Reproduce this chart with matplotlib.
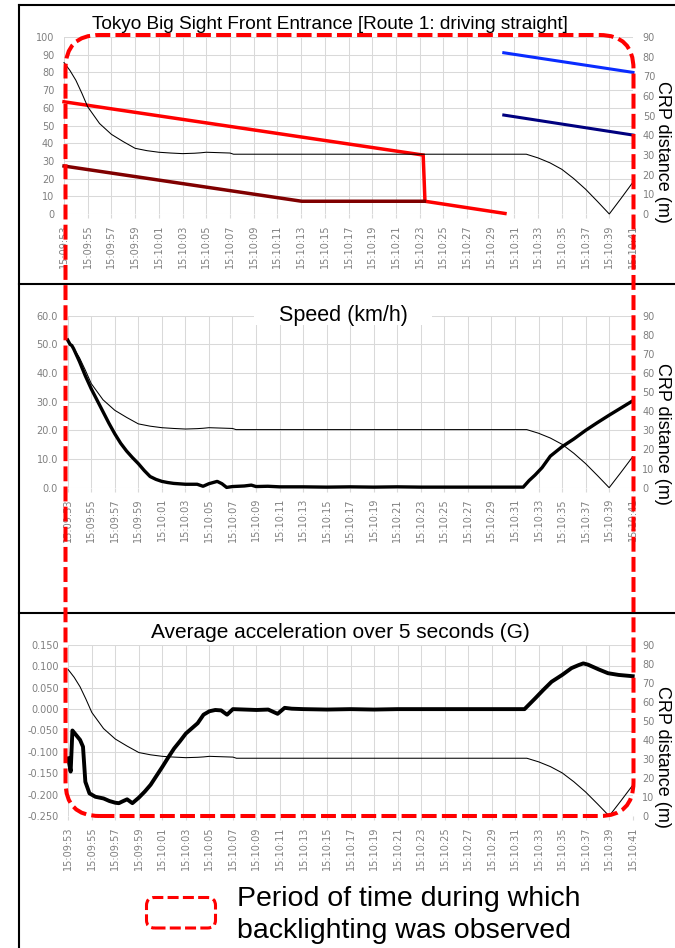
import matplotlib
matplotlib.use('Agg')
import matplotlib.pyplot as plt
from matplotlib.patches import FancyBboxPatch, Rectangle
from matplotlib.lines import Line2D
from matplotlib.transforms import IdentityTransform
from matplotlib.ticker import FixedLocator, FixedFormatter, FuncFormatter
from matplotlib import font_manager as fm

W, H, DPI = 675, 948, 100

# ---------------- data ----------------
tick_seconds = [0, 2, 4, 6, 8, 10, 12, 14, 16, 18, 20, 22, 24, 26, 28, 30,
                32, 34, 36, 38, 40, 42, 44, 46, 48]
tick_labels = ['15:09:53', '15:09:55', '15:09:57', '15:09:59', '15:10:01',
               '15:10:03', '15:10:05', '15:10:07', '15:10:09', '15:10:11',
               '15:10:13', '15:10:15', '15:10:17', '15:10:19', '15:10:21',
               '15:10:23', '15:10:25', '15:10:27', '15:10:29', '15:10:31',
               '15:10:33', '15:10:35', '15:10:37', '15:10:39', '15:10:41']

# CRP distance (m), right axis, same in all three panels
crp_t = [0, 0.5, 1, 1.5, 2, 3, 4, 5, 6, 7, 8, 9, 10, 11, 11.5, 12, 13, 14, 14.3,
         16, 20, 25, 30, 35, 39, 40, 41, 42, 43, 44, 45, 46, 47, 48]
crp_m = [77, 73, 68, 61.5, 54.5, 46, 40.5, 36.8, 33.4, 32.2, 31.4, 31.0, 30.7,
         30.9, 31.1, 31.4, 31.2, 31.0, 30.4, 30.4, 30.4, 30.4, 30.4, 30.4, 30.4,
         28.5, 26.0, 22.7, 18.0, 12.6, 6.4, 0.0, 8.0, 16.2]

# top panel lines (left axis 0-100)
red_t = [0, 30.3, 30.45, 37.2]
red_v = [63.4, 33.3, 7.2, 0.3]
darkred_t = [0, 20.05, 30.4]
darkred_v = [27.1, 7.2, 7.2]
blue_t = [37.1, 48]
blue_v = [91.1, 80.0]
navy_t = [37.1, 48]
navy_v = [55.9, 44.6]

# speed (km/h)
spd_t = [0, 0.2, 0.35, 0.5, 1, 1.5, 2, 2.5, 3, 3.5, 4, 4.5, 5, 5.5, 6, 6.5, 7,
         7.5, 8, 8.5, 9, 10, 11, 11.5, 12, 12.7, 13.1, 13.5, 14, 15, 15.6, 16,
         17, 18, 20, 22, 24, 26, 28, 30, 32, 34, 36, 38, 38.7, 39.2, 39.7, 40.3,
         41, 42, 43, 44, 45, 46, 47, 48]
spd_v = [51.5, 50.0, 49.6, 48.5, 44.0, 39.0, 34.5, 30.5, 26.5, 22.5, 18.8,
         15.5, 12.8, 10.5, 8.4, 6.0, 3.9, 2.9, 2.2, 1.8, 1.5, 1.2, 1.2, 0.5,
         1.4, 2.2, 1.4, 0.1, 0.4, 0.6, 0.9, 0.4, 0.5, 0.3, 0.3, 0.2, 0.3, 0.2,
         0.3, 0.2, 0.2, 0.2, 0.2, 0.2, 0.2, 2.5, 4.4, 7.0, 11.0, 14.3, 17.0,
         20.0, 22.7, 25.3, 27.8, 30.3]

# average acceleration over 5 s (G)
acc_t = [0, 0.2, 0.35, 1.0, 1.25, 1.45, 1.8, 2.3, 3.0, 3.5, 4.0, 4.3, 4.6, 5.0,
         5.45, 6.0, 6.5, 7.0, 7.5, 8.0, 8.5, 9.0, 9.5, 10.0, 10.5, 11.0, 11.5,
         12.0, 12.5, 13.0, 13.5, 14.0, 15, 16, 17, 17.8, 18.4, 19, 20, 22, 24,
         26, 28, 30, 32, 34, 36, 38, 38.8, 39.7, 40.4, 41.1, 42.0, 42.8, 43.4,
         43.8, 44.2, 45.1, 45.9, 46.8, 48]
acc_v = [-0.115, -0.146, -0.050, -0.072, -0.088, -0.170, -0.197, -0.205, -0.209,
         -0.215, -0.219, -0.220, -0.216, -0.211, -0.220, -0.207, -0.193, -0.177,
         -0.156, -0.135, -0.113, -0.092, -0.075, -0.057, -0.045, -0.033, -0.013,
         -0.005, -0.002, -0.003, -0.013, 0.000, -0.001, -0.002, -0.001, -0.011,
         0.003, 0.001, 0.000, -0.001, 0.000, -0.001, 0.000, 0.000, 0.000, 0.000,
         0.000, 0.000, 0.000, 0.025, 0.045, 0.064, 0.080, 0.096, 0.103, 0.107,
         0.104, 0.093, 0.084, 0.080, 0.077]

# ---------------- fonts ----------------
def has_font(name):
    try:
        fm.findfont(name, fallback_to_default=False)
        return True
    except Exception:
        return False

SANS = 'Liberation Sans' if has_font('Liberation Sans') else 'DejaVu Sans'
if has_font('Liberation Sans Narrow'):
    TITLE_FONT, TITLE_SIZE = 'Liberation Sans Narrow', 16.3
else:
    TITLE_FONT, TITLE_SIZE = SANS, 13.7

TICK_COLOR = '#7f7f7f'
GRID_COLOR = '#d9d9d9'

fig = plt.figure(figsize=(W / DPI, H / DPI), dpi=DPI)
fig.patch.set_facecolor('white')


def add_axes_px(left, top, right, bottom):
    return fig.add_axes([left / W, (H - bottom) / H, (right - left) / W,
                         (bottom - top) / H])


def style_panel(ax, ylim, yticks, yfmt):
    ax.set_xlim(0, 48)
    ax.set_ylim(*ylim)
    for s in ax.spines.values():
        s.set_visible(False)
    ax.xaxis.set_major_locator(FixedLocator(tick_seconds))
    ax.xaxis.set_major_formatter(FixedFormatter(tick_labels))
    ax.yaxis.set_major_locator(FixedLocator(yticks))
    ax.yaxis.set_major_formatter(FuncFormatter(yfmt))
    ax.grid(True, color=GRID_COLOR, linewidth=0.75)
    ax.set_axisbelow(True)
    ax.tick_params(axis='y', length=0, pad=7, labelsize=7, labelcolor=TICK_COLOR)
    ax.tick_params(axis='x', length=3, color=GRID_COLOR, pad=4.5, labelsize=7,
                   labelcolor=TICK_COLOR, labelrotation=90)
    for lab in ax.get_xticklabels() + ax.get_yticklabels():
        lab.set_fontfamily('DejaVu Sans')
    ax2 = ax.twinx()
    ax2.set_ylim(0, 90)
    for s in ax2.spines.values():
        s.set_visible(False)
    ax2.yaxis.set_major_locator(FixedLocator(list(range(0, 91, 10))))
    ax2.yaxis.set_major_formatter(FuncFormatter(lambda v, p: f'{v:.0f}'))
    ax2.tick_params(axis='y', length=0, pad=7, labelsize=7, labelcolor=TICK_COLOR)
    for lab in ax2.get_yticklabels():
        lab.set_fontfamily('DejaVu Sans')
    return ax2


# ---------------- top panel ----------------
ax1 = add_axes_px(64, 37, 633, 214)
ax1r = style_panel(ax1, (0, 100), list(range(0, 101, 10)), lambda v, p: f'{v:.0f}')
ax1.plot(red_t, red_v, color='#ff0000', lw=2.5, clip_on=False, solid_joinstyle='miter')
ax1.plot(darkred_t, darkred_v, color='#800000', lw=2.5, clip_on=False)
ax1.plot(blue_t, blue_v, color='#0a2cff', lw=2.2, clip_on=False)
ax1.plot(navy_t, navy_v, color='#00007f', lw=2.2, clip_on=False)
ax1r.plot(crp_t, crp_m, color='black', lw=0.75, clip_on=False)

# ---------------- middle panel ----------------
ax2 = add_axes_px(67.7, 315.7, 632.7, 487.7)
ax2r = style_panel(ax2, (0, 60), list(range(0, 61, 10)), lambda v, p: f'{v:.1f}')
ax2.plot(spd_t, spd_v, color='black', lw=2.4, clip_on=False)
ax2r.plot(crp_t, crp_m, color='black', lw=0.75, clip_on=False)

# ---------------- bottom panel ----------------
ax3 = add_axes_px(68.3, 645, 632.7, 816)
ax3r = style_panel(ax3, (-0.25, 0.15),
                   [-0.25, -0.2, -0.15, -0.1, -0.05, 0.0, 0.05, 0.1, 0.15],
                   lambda v, p: f'{v:.3f}')
ax3.plot(acc_t, acc_v, color='black', lw=2.8, clip_on=False)
ax3r.plot(crp_t, crp_m, color='black', lw=0.75, clip_on=False)

# ---------------- titles / labels ----------------
fig.text(330 / W, (H - 29.3) / H,
         'Tokyo Big Sight Front Entrance [Route 1: driving straight]',
         ha='center', va='baseline', fontsize=TITLE_SIZE, family=TITLE_FONT,
         color='black')

# white box behind middle title (hides gridlines like the original)
fig.add_artist(Rectangle((254, H - 325), 178, 25, transform=IdentityTransform(),
                         facecolor='white', edgecolor='none', zorder=1))
fig.text(343 / W, (H - 320.7) / H, 'Speed (km/h)', ha='center', va='baseline',
         fontsize=15.5, family=SANS, color='black', zorder=2)

fig.text(340 / W, (H - 638.3) / H, 'Average acceleration over 5 seconds (G)',
         ha='center', va='baseline', fontsize=15, family=SANS, color='black')

for yc in (152, 434, 757):
    fig.text(663 / W, (H - yc) / H, 'CRP distance (m)', rotation=270,
             ha='center', va='center', fontsize=13, family=SANS, color='black')

# ---------------- frame lines ----------------
frame_kw = dict(transform=IdentityTransform(), color='black', lw=1.5, zorder=4)
fig.add_artist(Line2D([19, 19], [H - 5, 0], **frame_kw))
fig.add_artist(Line2D([19, W], [H - 5, H - 5], **frame_kw))
fig.add_artist(Line2D([19, W], [H - 283.5, H - 283.5], **frame_kw))
fig.add_artist(Line2D([19, W], [H - 613, H - 613], **frame_kw))

# ---------------- backlighting period box ----------------
fig.add_artist(FancyBboxPatch((65.5, H - 816), 568, 781,
                              boxstyle='round,pad=0,rounding_size=34',
                              transform=IdentityTransform(), facecolor='none',
                              edgecolor='#ff0000', lw=2.9,
                              linestyle=(0, (3.7, 1.3)), zorder=10))

# legend
fig.add_artist(FancyBboxPatch((146.5, H - 928), 69, 30.5,
                              boxstyle='round,pad=0,rounding_size=8',
                              transform=IdentityTransform(), facecolor='none',
                              edgecolor='#ff0000', lw=2.2,
                              linestyle=(0, (3.6, 1.4)), zorder=10))
fig.text(237 / W, (H - 906) / H, 'Period of time during which', ha='left',
         va='baseline', fontsize=20.5, family=SANS, color='black')
fig.text(237 / W, (H - 938) / H, 'backlighting was observed', ha='left',
         va='baseline', fontsize=20.5, family=SANS, color='black')

fig.savefig('out.png', dpi=DPI, facecolor='white')
